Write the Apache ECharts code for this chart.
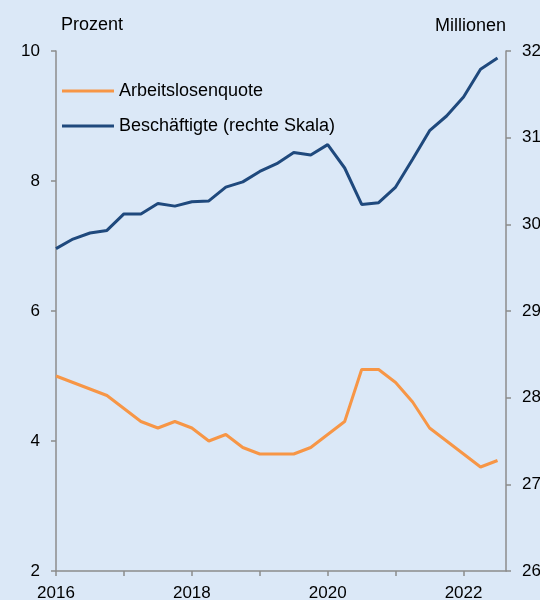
<!DOCTYPE html>
<html>
<head>
<meta charset="utf-8">
<script src="https://cdn.jsdelivr.net/npm/echarts@6/dist/echarts.min.js"></script>
<style>
  html, body { margin: 0; padding: 0; background: #dbe8f7; }
  #main { width: 540px; height: 600px; }
</style>
</head>
<body>
<div id="main"></div>
<script>
// Quartale
var quarters = ['2016Q1', '2016Q2', '2016Q3', '2016Q4', '2017Q1', '2017Q2', '2017Q3', '2017Q4',
  '2018Q1', '2018Q2', '2018Q3', '2018Q4', '2019Q1', '2019Q2', '2019Q3', '2019Q4',
  '2020Q1', '2020Q2', '2020Q3', '2020Q4', '2021Q1', '2021Q2', '2021Q3', '2021Q4',
  '2022Q1', '2022Q2', '2022Q3']

// Arbeitslosenquote, Prozent
var quote = [5.0, 4.9, 4.8, 4.7, 4.5, 4.3, 4.2, 4.3, 4.2, 4.0, 4.1, 3.9, 3.8, 3.8, 3.8, 3.9,
  4.1, 4.3, 5.1, 5.1, 4.9, 4.6, 4.2, 4.0, 3.8, 3.6, 3.7]

// Beschäftigte, Millionen (rechte Skala)
var beschaeftigte = [29.72, 29.83, 29.90, 29.93, 30.12, 30.12, 30.24, 30.21, 30.26, 30.27, 30.43, 30.49,
  30.61, 30.70, 30.83, 30.80, 30.92, 30.65, 30.23, 30.25, 30.43, 30.75, 31.08, 31.25,
  31.47, 31.79, 31.92]

var fontFamily = 'Liberation Sans, Arial, sans-serif'
var axisColor = '#8c8c8c'

// Quartal -> Jahreszahl als Zahl
function toYear (q) {
  return +q.slice(0, 4) + (+q.slice(5) - 1) / 4
}

var chart = echarts.init(document.getElementById('main'))

var option = {
  backgroundColor: '#dbe8f7',
  animation: false,
  textStyle: { fontFamily: fontFamily },
  // Beschriftung rechts darf über den Rand hinaus (wie im Original abgeschnitten)
  grid: { left: 56, right: 34, top: 51, bottom: 29, outerBoundsMode: 'none', containLabel: false },
  legend: {
    orient: 'vertical',
    left: 62,
    top: 81,
    padding: 0,
    icon: 'rect',
    itemWidth: 52,
    itemHeight: 3,
    itemGap: 15,
    textStyle: { fontSize: 18, color: '#000', fontFamily: fontFamily, lineHeight: 20 },
    data: ['Arbeitslosenquote', 'Beschäftigte (rechte Skala)']
  },
  xAxis: {
    type: 'value',
    min: 2016,
    max: 2022.625,
    interval: 1,
    splitLine: { show: false },
    axisLine: { lineStyle: { color: axisColor, width: 1.5 } },
    axisTick: { show: true, length: 5, lineStyle: { color: axisColor, width: 1.5 } },
    axisLabel: {
      fontSize: 17,
      color: '#000',
      margin: 14,
      showMaxLabel: false,
      formatter: function (v) { return v % 2 === 0 ? String(v) : '' }
    }
  },
  yAxis: [
    {
      type: 'value',
      min: 2,
      max: 10,
      interval: 2,
      name: 'Prozent',
      nameLocation: 'end',
      nameGap: 17,
      nameTextStyle: { fontSize: 18, color: '#000', align: 'left', padding: [0, 0, 0, 5] },
      splitLine: { show: false },
      axisLine: { show: true, lineStyle: { color: axisColor, width: 1.5 } },
      axisTick: { show: true, length: 5, lineStyle: { color: axisColor, width: 1.5 } },
      axisLabel: { fontSize: 17, color: '#000', margin: 16 }
    },
    {
      type: 'value',
      min: 26,
      max: 32,
      interval: 1,
      position: 'right',
      name: 'Millionen',
      nameLocation: 'end',
      nameGap: 16,
      nameTextStyle: { fontSize: 18, color: '#000', align: 'right' },
      splitLine: { show: false },
      axisLine: { show: true, lineStyle: { color: axisColor, width: 1.5 } },
      axisTick: { show: true, length: 5, lineStyle: { color: axisColor, width: 1.5 } },
      axisLabel: { fontSize: 17, color: '#000', margin: 16 }
    }
  ],
  series: [
    {
      name: 'Arbeitslosenquote',
      type: 'line',
      yAxisIndex: 0,
      symbol: 'none',
      color: '#f79646',
      lineStyle: { width: 3, color: '#f79646' },
      data: quarters.map(function (q, i) { return [toYear(q), quote[i]] })
    },
    {
      name: 'Beschäftigte (rechte Skala)',
      type: 'line',
      yAxisIndex: 1,
      symbol: 'none',
      color: '#1f497d',
      lineStyle: { width: 3, color: '#1f497d' },
      data: quarters.map(function (q, i) { return [toYear(q), beschaeftigte[i]] })
    }
  ]
}

chart.setOption(option)
</script>
</body>
</html>
